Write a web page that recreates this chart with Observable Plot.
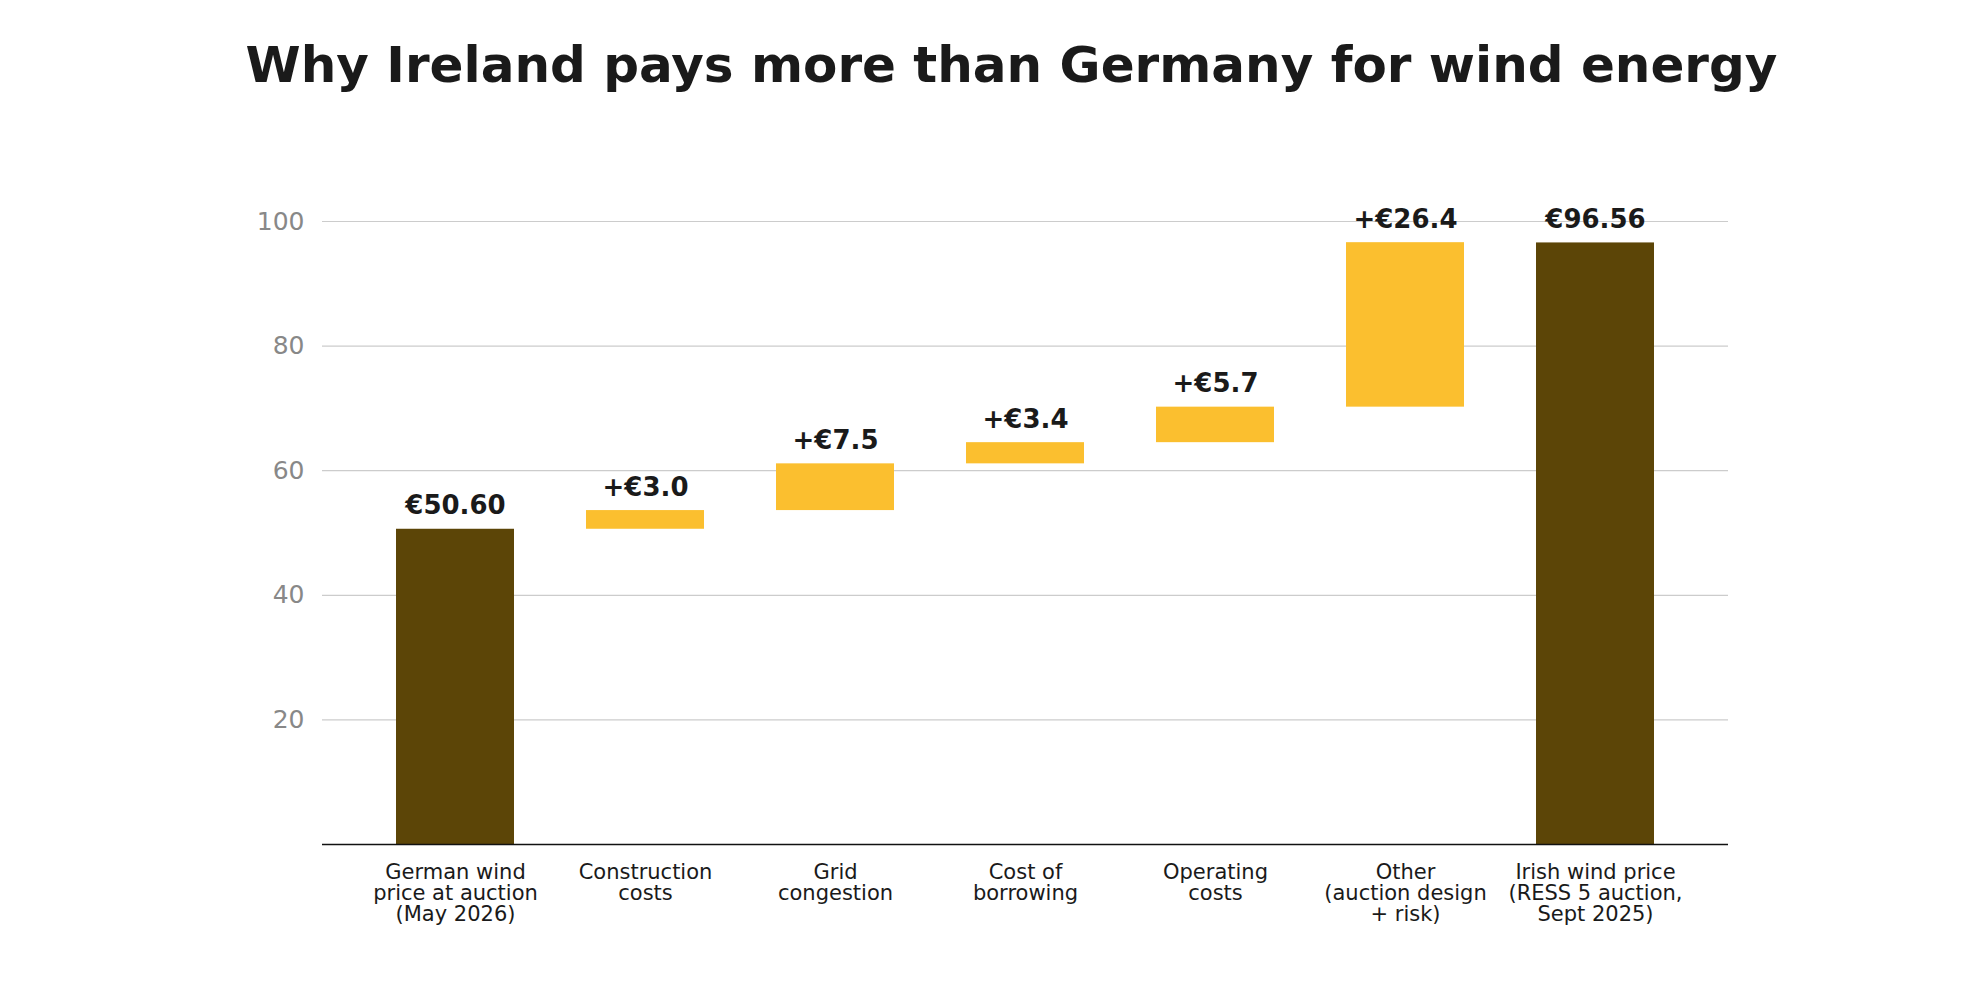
<!DOCTYPE html>
<html><head><meta charset="utf-8">
<script src="https://cdn.jsdelivr.net/npm/d3@7"></script>
<script src="https://cdn.jsdelivr.net/npm/@observablehq/plot@0.6"></script>
<style>
body{margin:0;background:#fff;font-family:"DejaVu Sans",sans-serif;}
#title{height:130px;display:flex;align-items:center;justify-content:center;font-size:50px;font-weight:bold;color:#1a1a1a;padding-left:55px;box-sizing:border-box;}
</style></head><body>
<div id="title">Why Ireland pays more than Germany for wind energy</div>
<div id="chart"></div>
<script>
const categories = ["German wind\nprice at auction\n(May 2026)","Construction\ncosts","Grid\ncongestion","Cost of\nborrowing","Operating\ncosts","Other\n(auction design\n+ risk)","Irish wind price\n(RESS 5 auction,\nSept 2025)"];
const values = [50.60, 3.0, 7.5, 3.4, 5.7, 26.4, 96.56];
const kinds = ["total","step","step","step","step","step","total"];
const labels = ["€50.60","+€3.0","+€7.5","+€3.4","+€5.7","+€26.4","€96.56"];
const yTicks = [20,40,60,80,100];

let run = 0;
const data = categories.map((c,i)=>{
  let y1, y2;
  if (kinds[i]==="total"){ y1=0; y2=values[i]; run=values[i]; }
  else { y1=run; y2=run+values[i]; run=y2; }
  return {cat:c, y1, y2, kind:kinds[i], label:labels[i]};
});

const chart = Plot.plot({
  width:1968, height:870,
  marginTop:91, marginBottom:156, marginLeft:322, marginRight:240,
  style:{fontFamily:"DejaVu Sans, sans-serif"},
  x:{domain:categories, padding:0.38, label:null},
  y:{domain:[0,100], label:null},
  color:{domain:["total","step"], range:["#5c4507","#fbbf2f"]},
  marks:[
    Plot.gridY(yTicks,{stroke:"#cccccc", strokeOpacity:1, strokeWidth:1.2}),
    Plot.axisY(yTicks,{tickSize:0, tickPadding:18, fontSize:25, fill:"#888", label:null}),
    Plot.barY(data,{x:"cat", y1:"y1", y2:"y2", fill:"kind"}),
    Plot.ruleY([0],{stroke:"#111", strokeWidth:1.5}),
    Plot.axisX({tickSize:0, tickPadding:20, fontSize:21, fill:"#1a1a1a", lineAnchor:"top", label:null}),
    Plot.text(data,{x:"cat", y:"y2", text:"label", dy:-15, lineAnchor:"bottom", fontSize:26, fontWeight:"bold", fill:"#1a1a1a"})
  ]
});
document.getElementById("chart").append(chart);
</script>
</body></html>
